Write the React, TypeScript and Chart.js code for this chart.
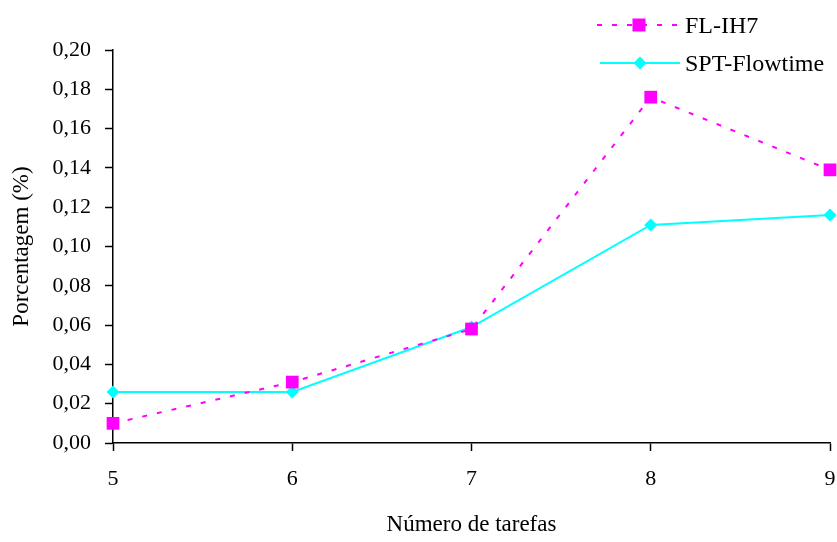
import React, { useEffect, useRef } from "react";
import { Chart, registerables } from "chart.js";

Chart.register(...registerables);

const categories = ["5", "6", "7", "8", "9"];
const flIH7 = [0.010, 0.031, 0.058, 0.176, 0.139];
const sptFlowtime = [0.026, 0.026, 0.059, 0.111, 0.116];
const seriesNames = ["FL-IH7", "SPT-Flowtime"];
const xTitle = "Número de tarefas";
const yTitle = "Porcentagem (%)";
const yMin = 0;
const yMax = 0.2;
const yStep = 0.02;

const FONT = "'Times New Roman', 'Liberation Serif', serif";
const PINK = "#FF00FF";
const CYAN = "#00FFFF";

export default function App() {
  const canvasRef = useRef<HTMLCanvasElement | null>(null);

  useEffect(() => {
    const canvas = canvasRef.current;
    if (!canvas) return;
    const chart = new Chart(canvas, {
      type: "line",
      data: {
        labels: categories,
        datasets: [
          {
            label: seriesNames[0],
            data: flIH7,
            borderColor: PINK,
            backgroundColor: PINK,
            borderWidth: 2,
            borderDash: [5, 10],
            pointStyle: "rect",
            pointRadius: 9,
            pointBorderWidth: 0,
            pointBackgroundColor: PINK,
            tension: 0,
            clip: false as any,
          },
          {
            label: seriesNames[1],
            data: sptFlowtime,
            borderColor: CYAN,
            backgroundColor: CYAN,
            borderWidth: 2,
            pointStyle: "rectRot",
            pointRadius: 6.5,
            pointBorderWidth: 0,
            pointBackgroundColor: CYAN,
            tension: 0,
            clip: false as any,
          },
        ],
      },
      options: {
        responsive: false,
        animation: false,
        devicePixelRatio: 1,
        layout: {
          autoPadding: false,
          padding: { top: 50, right: 7, left: 0, bottom: 0 },
        },
        plugins: {
          legend: { display: false },
          tooltip: { enabled: false },
        },
        scales: {
          x: {
            type: "category",
            offset: false,
            afterFit: (scale: any) => {
              scale.height = 99;
              scale.paddingLeft = 0;
              scale.paddingRight = 0;
            },
            grid: {
              drawOnChartArea: false,
              color: "#000",
              tickLength: 8,
              tickWidth: 1.5,
            },
            border: { color: "#000", width: 1.5 },
            ticks: {
              color: "#000",
              padding: 15,
              font: { family: FONT, size: 22 },
              maxRotation: 0,
            },
            title: {
              display: true,
              text: xTitle,
              color: "#000",
              font: { family: FONT, size: 23 },
              padding: { top: 0, bottom: 3 },
            },
          },
          y: {
            min: yMin,
            max: yMax,
            afterFit: (scale: any) => {
              scale.width = 113;
              scale.paddingTop = 0;
              scale.paddingBottom = 0;
            },
            grid: {
              drawOnChartArea: false,
              color: "#000",
              tickLength: 8,
              tickWidth: 1.5,
            },
            border: { color: "#000", width: 1.5 },
            ticks: {
              stepSize: yStep,
              color: "#000",
              padding: 14,
              font: { family: FONT, size: 22 },
              callback: (v: any) => Number(v).toFixed(2).replace(".", ","),
            },
            title: {
              display: true,
              text: yTitle,
              color: "#000",
              font: { family: FONT, size: 23 },
              padding: { top: 8, bottom: 0 },
            },
          },
        },
      },
    });
    return () => chart.destroy();
  }, []);

  const textStyle: React.CSSProperties = {
    position: "absolute",
    left: 685,
    height: 30,
    lineHeight: "30px",
    fontFamily: FONT,
    fontSize: 24,
    color: "#000",
    whiteSpace: "nowrap",
  };

  return (
    <div style={{ position: "fixed", left: 0, top: 0, width: 837, height: 542, background: "#fff", overflow: "hidden" }}>
      <canvas ref={canvasRef} width={837} height={542} style={{ width: 837, height: 542, display: "block" }} />
      <svg
        width={90}
        height={80}
        style={{ position: "absolute", left: 594, top: 5 }}
      >
        <line x1={3} y1={20} x2={87} y2={20} stroke={PINK} strokeWidth={2} strokeDasharray="5 10" />
        <rect x={45 - 6.5} y={20 - 6.5} width={13} height={13} fill={PINK} />
        <line x1={6} y1={58} x2={86} y2={58} stroke={CYAN} strokeWidth={2} />
        <polygon points={`46,${58 - 6.5} ${46 + 6.5},58 46,${58 + 6.5} ${46 - 6.5},58`} fill={CYAN} />
      </svg>
      <div style={{ ...textStyle, top: 25 - 15 }}>{seriesNames[0]}</div>
      <div style={{ ...textStyle, top: 63 - 15 }}>{seriesNames[1]}</div>
    </div>
  );
}
